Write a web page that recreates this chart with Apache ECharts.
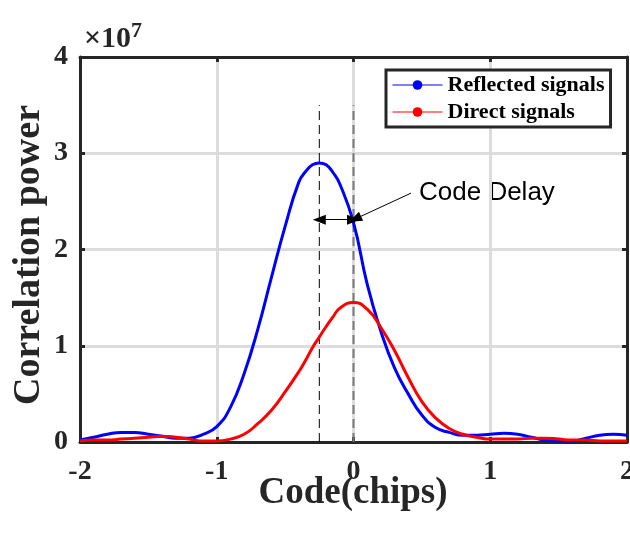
<!DOCTYPE html>
<html>
<head>
<meta charset="utf-8">
<script src="https://cdn.jsdelivr.net/npm/echarts@6/dist/echarts.min.js"></script>
<style>
html,body{margin:0;padding:0;background:#fff;overflow:hidden;width:630px;height:533px;}
#chart{width:630px;height:533px;}
</style>
</head>
<body>
<div id="chart"></div>
<script>
// ---- data (y in units of 1e7) ----
var codeX = [-2.0,-1.9,-1.8,-1.7,-1.6,-1.5,-1.4,-1.3,-1.2,-1.1,-1.0,-0.9,-0.8,-0.7,-0.6,-0.5,-0.4,-0.35,-0.3,-0.25,-0.2,-0.15,-0.1,0.0,0.1,0.2,0.3,0.4,0.5,0.6,0.7,0.8,0.9,1.0,1.1,1.2,1.3,1.4,1.5,1.6,1.7,1.8,1.9,2.0];
var reflected = [0.02,0.05,0.08,0.10,0.10,0.08,0.06,0.04,0.04,0.08,0.16,0.36,0.71,1.17,1.71,2.24,2.70,2.81,2.88,2.90,2.88,2.80,2.68,2.28,1.64,1.15,0.77,0.50,0.28,0.15,0.10,0.07,0.07,0.08,0.09,0.08,0.05,0.02,0.01,0.01,0.04,0.07,0.08,0.07];
var direct = [0.01,0.02,0.02,0.03,0.04,0.05,0.06,0.05,0.03,0.01,0.01,0.03,0.08,0.19,0.33,0.52,0.73,0.85,0.98,1.09,1.20,1.30,1.39,1.45,1.38,1.19,0.95,0.67,0.42,0.25,0.14,0.08,0.05,0.03,0.03,0.03,0.04,0.04,0.03,0.02,0.02,0.01,0.01,0.01];
var seriesNames = ['Reflected signals','Direct signals'];
var xTicks = [-2,-1,0,1,2];
var xTickLabels = ['-2','-1','0','1','2'];
var yTicks = [0,1,2,3,4];
var yTickLabels = ['0','1','2','3','4'];
var reflectedPeakX = -0.25;   // dashed marker of reflected peak
var directPeakX = 0;          // dashed marker of direct peak
var markerTop = 3.5;
var delayArrowY = 2.31;
var calloutStart = [0.42, 2.585];
var calloutEnd = [0.012, 2.317];
var calloutText = 'Code Delay';
var xTitle = 'Code(chips)';
var yTitle = 'Correlation power';
var exponentBase = '×10';
var exponentPow = '7';

function pairs(xs, ys){ return xs.map(function(x,i){ return [x, ys[i]]; }); }
function labelFrom(ticks, labels){ return function(v){ var i = ticks.indexOf(Math.round(v*1000)/1000); return i>=0 ? labels[i] : ''; }; }

var serif = '"Liberation Serif","Times New Roman",serif';
var axisColor = '#262626';
var gridColor = '#dcdcdc';

var chart = echarts.init(document.getElementById('chart'), null, {renderer:'canvas', width:630, height:533});
var baseAxis = {
  type:'value',
  axisLine:{show:true, onZero:false, lineStyle:{color:axisColor, width:3}},
  axisTick:{show:true, inside:true, length:5, lineStyle:{color:axisColor, width:3}}
};
var option = {
  animation:false,
  backgroundColor:'#fff',
  grid:{left:80, right:3, top:57, bottom:91, containLabel:false, outerBoundsMode:'none'},
  xAxis:[
    Object.assign({}, baseAxis, {min:-2, max:2, interval:1, position:'bottom',
      axisLabel:{show:true, margin:16, fontFamily:serif, fontWeight:'bold', fontSize:28, color:axisColor, formatter:labelFrom(xTicks, xTickLabels)},
      splitLine:{show:true, lineStyle:{color:gridColor, width:3}}}),
    Object.assign({}, baseAxis, {min:-2, max:2, interval:1, position:'top', axisLabel:{show:false}, splitLine:{show:false}})
  ],
  yAxis:[
    Object.assign({}, baseAxis, {min:0, max:4, interval:1, position:'left',
      axisLabel:{show:true, margin:12, fontFamily:serif, fontWeight:'bold', fontSize:28, color:axisColor, formatter:labelFrom(yTicks, yTickLabels)},
      splitLine:{show:true, lineStyle:{color:gridColor, width:3}}}),
    Object.assign({}, baseAxis, {min:0, max:4, interval:1, position:'right', axisLabel:{show:false}, splitLine:{show:false}})
  ],
  legend:{
    data:seriesNames, orient:'vertical', left:386, top:70,
    padding:[4,6,4,6], itemGap:5, itemWidth:50, itemHeight:12,
    backgroundColor:'#fff', borderColor:axisColor, borderWidth:3,
    lineStyle:{width:1},
    textStyle:{fontFamily:serif, fontWeight:'bold', fontSize:22, color:'#000'}
  },
  series:[
    {name:'reflectedPeak', type:'line', data:[[reflectedPeakX,0],[reflectedPeakX,markerTop]], symbol:'none', silent:true,
     lineStyle:{color:'#000', width:1, type:[9,5]}, z:1},
    {name:'directPeak', type:'line', data:[[directPeakX,0],[directPeakX,markerTop]], symbol:'none', silent:true,
     lineStyle:{color:'#7a7a7a', width:2, type:[9,5]}, z:1,
     markLine:{silent:true, symbol:'none', label:{show:false}, lineStyle:{color:'#000', width:1, type:'solid'}, emphasis:{disabled:true},
       data:[
         [{coord:[reflectedPeakX, delayArrowY], symbol:'triangle', symbolSize:[10,13]}, {coord:[directPeakX, delayArrowY], symbol:'triangle', symbolSize:[10,13]}],
         [{coord:calloutStart, symbol:'none'}, {coord:calloutEnd, symbol:'triangle', symbolSize:[10,13]}]
       ]}},
    {name:seriesNames[0], type:'line', data:pairs(codeX, reflected), smooth:0.5, symbol:'circle', symbolSize:11, showSymbol:false,
     color:'#0000ff', lineStyle:{color:'#0000ff', width:3}, itemStyle:{color:'#0000ff'}, z:3},
    {name:seriesNames[1], type:'line', data:pairs(codeX, direct), smooth:0.5, symbol:'circle', symbolSize:11, showSymbol:false,
     color:'#ff0000', lineStyle:{color:'#ff0000', width:3}, itemStyle:{color:'#ff0000'}, z:4}
  ],
  graphic:[
    {type:'text', x:419, y:193, style:{text:calloutText, font:'26px "Liberation Sans", Arial, sans-serif', fill:'#000', align:'left', verticalAlign:'middle'}},
    {type:'text', x:353, y:493, style:{text:xTitle, font:'bold 37px '+serif, fill:axisColor, align:'center', verticalAlign:'middle'}},
    {type:'text', x:29, y:255, rotation:Math.PI/2, style:{text:yTitle, font:'bold 38px '+serif, fill:axisColor, align:'center', verticalAlign:'middle'}},
    {type:'text', x:84, y:39, style:{text:'{b|'+exponentBase+'}{p|'+exponentPow+'}', fill:axisColor, verticalAlign:'middle',
      rich:{b:{fontFamily:serif, fontWeight:'bold', fontSize:30, color:axisColor}, p:{fontFamily:serif, fontWeight:'bold', fontSize:22, color:axisColor, verticalAlign:'top', padding:[0,0,16,0]}}}}
  ]
};
chart.setOption(option);
</script>
</body>
</html>
